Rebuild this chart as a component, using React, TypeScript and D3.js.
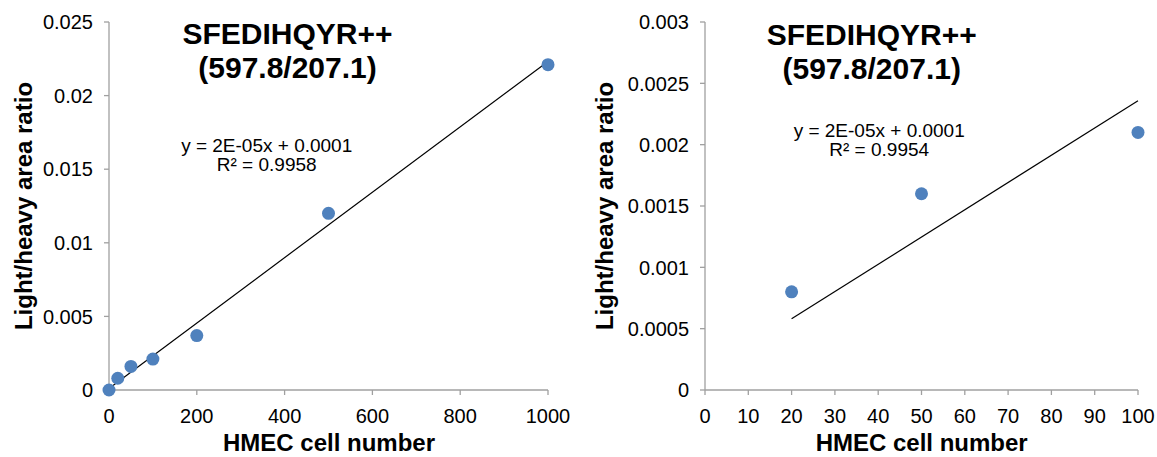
import React, { useEffect } from "react";
import * as d3 from "d3";

// ---- data ----
const leftX = [0, 20, 50, 100, 200, 500, 1000];
const leftY = [0, 0.0008, 0.0016, 0.0021, 0.0037, 0.012, 0.0221];
const leftTrendX = [0, 1000];
const leftTrendY = [0.000108, 0.02232];
const leftXTicks = [0, 200, 400, 600, 800, 1000];
const leftYTicks = [0, 0.005, 0.01, 0.015, 0.02, 0.025];
const leftEq = ["y = 2E-05x + 0.0001", "R² = 0.9958"];

const rightX = [20, 50, 100];
const rightY = [0.0008, 0.0016, 0.0021];
const rightTrendX = [20, 100];
const rightTrendY = [0.00058, 0.002358];
const rightXTicks = [0, 10, 20, 30, 40, 50, 60, 70, 80, 90, 100];
const rightYTicks = [0, 0.0005, 0.001, 0.0015, 0.002, 0.0025, 0.003];
const rightEq = ["y = 2E-05x + 0.0001", "R² = 0.9954"];

const titleLines = ["SFEDIHQYR++", "(597.8/207.1)"];
const xTitle = "HMEC cell number";
const yTitle = "Light/heavy area ratio";

const FONT = "'Liberation Sans', Arial, Helvetica, sans-serif";
const AXIS = "#a0a0a0";
const DOT = "#4f81bd";

type PanelProps = {
  xs: number[]; ys: number[]; tx: number[]; ty: number[];
  xTicks: number[]; yTicks: number[]; eq: string[];
  x0: number; x1: number; xMax: number; yMax: number;
  titleX: number; titleY: number; eqX: number; eqY: number;
  yTitleX: number; xTitleX: number; tickLabelGap: number;
};

function Panel(p: PanelProps) {
  const x = d3.scaleLinear().domain([0, p.xMax]).range([p.x0, p.x1]);
  const y = d3.scaleLinear().domain([0, p.yMax]).range([390, 22]);
  const line = d3.line<[number, number]>().x((d) => x(d[0])).y((d) => y(d[1]));
  const trend: [number, number][] = p.tx.map((v, i) => [v, p.ty[i]]);
  return (
    <g fontFamily={FONT}>
      {/* axes */}
      <line x1={p.x0} x2={p.x0} y1={y(p.yMax)} y2={y(0)} stroke={AXIS} strokeWidth={1.3} />
      <line x1={p.x0} x2={p.x1} y1={y(0)} y2={y(0)} stroke={AXIS} strokeWidth={1.3} />
      {p.yTicks.map((t) => (
        <g key={"y" + t}>
          <line x1={p.x0 - 5} x2={p.x0} y1={y(t)} y2={y(t)} stroke={AXIS} strokeWidth={1.3} />
          <text x={p.x0 - p.tickLabelGap} y={y(t)} dy="0.36em" textAnchor="end" fontSize={20} fill="#000">
            {String(t)}
          </text>
        </g>
      ))}
      {p.xTicks.map((t) => (
        <g key={"x" + t}>
          <line x1={x(t)} x2={x(t)} y1={y(0)} y2={y(0) + 5} stroke={AXIS} strokeWidth={1.3} />
          <text x={x(t)} y={423} textAnchor="middle" fontSize={20} fill="#000">
            {String(t)}
          </text>
        </g>
      ))}
      {/* trendline */}
      <path d={line(trend) || ""} fill="none" stroke="#000" strokeWidth={1.2} />
      {/* points */}
      {p.xs.map((v, i) => (
        <circle key={i} cx={x(v)} cy={y(p.ys[i])} r={6.5} fill={DOT} />
      ))}
      {/* title */}
      {titleLines.map((s, i) => (
        <text key={s} x={p.titleX} y={p.titleY + i * 34} textAnchor="middle" fontSize={30} fontWeight="bold" fill="#000">
          {s}
        </text>
      ))}
      {/* equation */}
      {p.eq.map((s, i) => (
        <text key={s} x={p.eqX} y={p.eqY + i * 19} textAnchor="middle" fontSize={19} fill="#000">
          {s}
        </text>
      ))}
      {/* axis titles */}
      <text x={p.xTitleX} y={451} textAnchor="middle" fontSize={24} fontWeight="bold" fill="#000">
        {xTitle}
      </text>
      <text
        transform={`translate(${p.yTitleX},206) rotate(-90)`}
        textAnchor="middle"
        fontSize={24}
        fontWeight="bold"
        fill="#000"
      >
        {yTitle}
      </text>
    </g>
  );
}

export default function App() {
  useEffect(() => {
    document.body.style.margin = "0";
  }, []);
  return (
    <svg width={1157} height={457} style={{ position: "absolute", left: 0, top: 0, background: "#fff" }}>
      <rect width={1157} height={457} fill="#fff" />
      <Panel
        xs={leftX} ys={leftY} tx={leftTrendX} ty={leftTrendY}
        xTicks={leftXTicks} yTicks={leftYTicks} eq={leftEq}
        x0={109} x1={548} xMax={1000} yMax={0.025}
        titleX={287.5} titleY={43.5} eqX={266.7} eqY={151.5}
        yTitleX={32} xTitleX={329} tickLabelGap={16}
      />
      <Panel
        xs={rightX} ys={rightY} tx={rightTrendX} ty={rightTrendY}
        xTicks={rightXTicks} yTicks={rightYTicks} eq={rightEq}
        x0={705} x1={1138} xMax={100} yMax={0.003}
        titleX={871.7} titleY={44.5} eqX={879.2} eqY={136.5}
        yTitleX={613} xTitleX={921.7} tickLabelGap={16}
      />
    </svg>
  );
}
